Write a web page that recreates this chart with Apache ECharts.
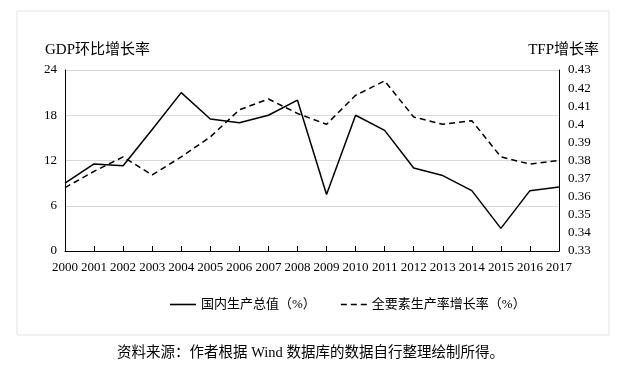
<!DOCTYPE html>
<html><head><meta charset="utf-8">
<script src="https://cdn.jsdelivr.net/npm/echarts@6/dist/echarts.min.js"></script>
<style>html,body{margin:0;padding:0;background:#fff}#c{width:621px;height:371px}</style>
</head><body><div id="c"></div>
<script>
const years = ['2000','2001','2002','2003','2004','2005','2006','2007','2008','2009','2010','2011','2012','2013','2014','2015','2016','2017'];
const gdp = [9.0,11.55,11.3,16.1,21.0,17.5,17.0,18.0,20.0,7.5,18.0,16.0,11.0,10.0,8.0,3.0,8.0,8.5];
const tfp = [0.365,0.374,0.382,0.372,0.382,0.393,0.408,0.414,0.406,0.400,0.416,0.424,0.404,0.400,0.402,0.382,0.378,0.380];
const gdpName = '国内生产总值（%）';
const tfpName = '全要素生产率增长率（%）';
const leftName = 'GDP环比增长率';
const rightName = 'TFP增长率';
const caption = '资料来源：作者根据 Wind 数据库的数据自行整理绘制所得。';

const FONT = '"Liberation Serif", "Noto Sans CJK SC", serif';
const chart = echarts.init(document.getElementById('c'), null, {renderer:'canvas'});
chart.setOption({
  animation:false,
  textStyle:{fontFamily:FONT, color:'#000'},
  grid:{left:65, right:62, top:70, bottom:120},
  legend:{
    top:293, left:165, itemWidth:26, itemHeight:1.6, itemGap:25,
    textStyle:{fontFamily:FONT, fontSize:13, color:'#000'},
    itemStyle:{color:'#000', borderWidth:0},
    data:[
      {name:gdpName, icon:'path://M0,0H26V1.6H0Z'},
      {name:tfpName, icon:'path://M0,0H6V1.6H0Z M10,0H16V1.6H10Z M20,0H26V1.6H20Z'}
    ]
  },
  xAxis:{
    type:'category', data:years, boundaryGap:false,
    axisLine:{lineStyle:{color:'#000', width:1}},
    axisTick:{inside:true, length:5, lineStyle:{color:'#000'}},
    axisLabel:{color:'#000', fontSize:13, margin:10, fontFamily:FONT, interval:0}
  },
  yAxis:[{
    type:'value', min:0, max:24, interval:6,
    name:leftName, nameLocation:'end', nameGap:12,
    nameTextStyle:{fontFamily:FONT, fontSize:15, color:'#000', align:'left', padding:[0,0,0,-20]},
    axisLine:{show:true, lineStyle:{color:'#000'}},
    axisTick:{show:false},
    axisLabel:{color:'#000', fontSize:13, margin:8, fontFamily:FONT},
    splitLine:{lineStyle:{color:'#d9d9d9', width:1}}
  },{
    type:'value', min:0.33, max:0.43, interval:0.01,
    name:rightName, nameLocation:'end', nameGap:12,
    nameTextStyle:{fontFamily:FONT, fontSize:15, color:'#000', align:'right', padding:[0,-40,0,0]},
    axisLine:{show:true, lineStyle:{color:'#000'}},
    axisTick:{show:false},
    axisLabel:{color:'#000', fontSize:13, margin:9, fontFamily:FONT,
      formatter:v=>String(parseFloat(v.toFixed(2)))},
    splitLine:{show:false}
  }],
  series:[{
    name:gdpName, type:'line', yAxisIndex:0, data:gdp, symbol:'none',
    lineStyle:{color:'#000', width:1.5}, itemStyle:{color:'#000'}
  },{
    name:tfpName, type:'line', yAxisIndex:1, data:tfp, symbol:'none',
    lineStyle:{color:'#000', width:1.5, type:[6,4]}, itemStyle:{color:'#000'}
  }],
  graphic:[{
    type:'rect', shape:{x:17, y:11, width:592, height:324},
    style:{fill:null, stroke:'#e3e3e3', lineWidth:1}, z:-1
  },{
    type:'text', left:'center', top:346,
    style:{text:caption, font:'14.5px ' + FONT, fill:'#000'}
  }]
});
</script></body></html>
